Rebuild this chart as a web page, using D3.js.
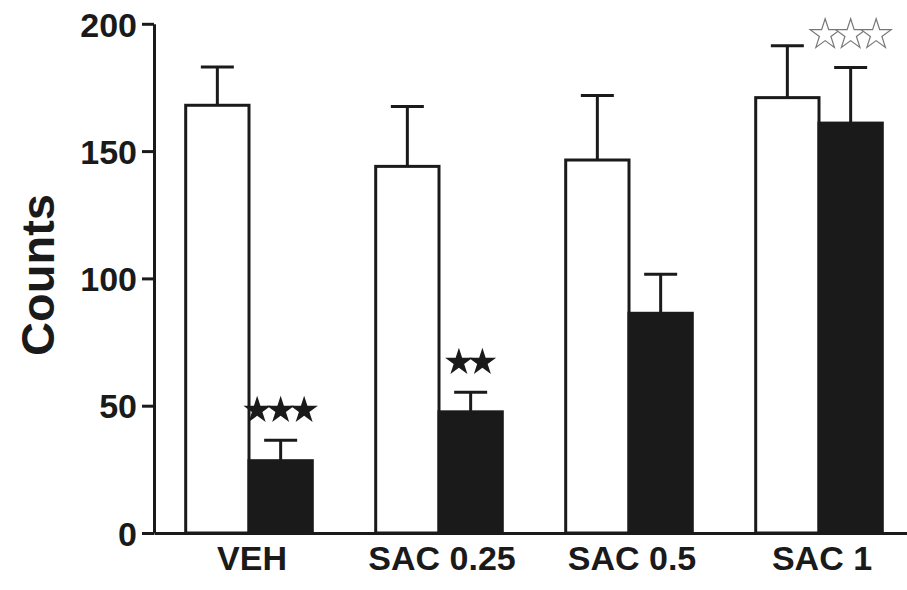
<!DOCTYPE html>
<html>
<head>
<meta charset="utf-8">
<script src="https://cdn.jsdelivr.net/npm/d3@7"></script>
<style>
  body { margin: 0; background: #fff; }
  svg { display: block; }
  text { font-family: "Liberation Sans", Arial, sans-serif; font-weight: bold; fill: #1a1a1a; }
</style>
</head>
<body>
<div id="chart"></div>
<script>
// values
const groups = ['VEH', 'SAC 0.25', 'SAC 0.5', 'SAC 1']
const whiteMean = [168, 144, 146.5, 171]
const whiteSem = [15, 23.5, 25.3, 20.4]
const blackMean = [28.4, 47.6, 86.3, 161]
const blackSem = [8, 7.7, 15.3, 21.8]
const filledStars = [3, 2, 0, 0]
const openStars = [0, 0, 0, 3]
const yTicks = [0, 50, 100, 150, 200]

const width = 907
const height = 590
const ink = '#1a1a1a'

const svg = d3.select('#chart').append('svg')
    .attr('width', width)
    .attr('height', height)

const x = d3.scaleBand().domain(groups).range([154, 914])
const y = d3.scaleLinear().domain([0, 200]).range([533, 23.8])

const barW = 63.3
const capW = 33

// y axis
const yAxis = d3.axisLeft(y)
    .tickValues(yTicks)
    .tickSize(12)
    .tickSizeOuter(0)
    .tickPadding(5)

const yG = svg.append('g')
    .attr('transform', 'translate(154,0)')
    .call(yAxis)
yG.select('.domain').attr('stroke', ink).attr('stroke-width', 3)
yG.selectAll('.tick line').attr('stroke', ink).attr('stroke-width', 3)
yG.selectAll('.tick text')
    .attr('font-size', 34)
    .attr('dy', '0.36em')
    .style('font-family', '"Liberation Sans", Arial, sans-serif')
    .style('font-weight', 'bold')
    .attr('fill', ink)

// x axis
const xAxis = d3.axisBottom(x).tickSize(0).tickPadding(13)
const xG = svg.append('g')
    .attr('transform', 'translate(0,533)')
    .call(xAxis)
xG.select('.domain').attr('stroke', ink).attr('stroke-width', 3)
xG.selectAll('.tick text')
    .attr('font-size', 34)
    .attr('dy', '0.71em')
    .attr('dx', 3)
    .style('font-family', '"Liberation Sans", Arial, sans-serif')
    .style('font-weight', 'bold')
    .attr('fill', ink)

// y label
svg.append('text')
    .attr('transform', 'translate(54,275) rotate(-90)')
    .attr('text-anchor', 'middle')
    .attr('font-size', 47)
    .text('Counts')

const cx = d => x(d) + x.bandwidth() / 2

const bars = [
  { mean: whiteMean, sem: whiteSem, fill: '#fff', off: -barW },
  { mean: blackMean, sem: blackSem, fill: ink, off: 0 },
]

bars.forEach(s => {
  const g = svg.append('g')
  groups.forEach((k, i) => {
    const left = cx(k) + s.off
    const mid = left + barW / 2
    // error bar (upper only)
    g.append('line')
        .attr('x1', mid).attr('x2', mid)
        .attr('y1', y(s.mean[i])).attr('y2', y(s.mean[i] + s.sem[i]))
        .attr('stroke', ink).attr('stroke-width', 3)
    g.append('line')
        .attr('x1', mid - capW / 2).attr('x2', mid + capW / 2)
        .attr('y1', y(s.mean[i] + s.sem[i])).attr('y2', y(s.mean[i] + s.sem[i]))
        .attr('stroke', ink).attr('stroke-width', 3)
    g.append('rect')
        .attr('x', left)
        .attr('y', y(s.mean[i]))
        .attr('width', barW)
        .attr('height', y(0) - y(s.mean[i]))
        .attr('fill', s.fill)
        .attr('stroke', ink)
        .attr('stroke-width', 3)
  })
})

// significance stars above the black bars
const star = d3.symbol(d3.symbolStar)
groups.forEach((k, i) => {
  const mid = cx(k) + barW / 2
  const top = y(blackMean[i] + blackSem[i])
  const nf = filledStars[i]
  for (let j = 0; j < nf; j++) {
    svg.append('path')
        .attr('d', star.size(235)())
        .attr('transform', `translate(${mid + (j - (nf - 1) / 2) * 23.5},${top - 30})`)
        .attr('fill', ink)
  }
  const no = openStars[i]
  for (let j = 0; j < no; j++) {
    svg.append('path')
        .attr('d', star.size(280)())
        .attr('transform', `translate(${mid + (j - (no - 1) / 2) * 25.5},${top - 33})`)
        .attr('fill', '#fff')
        .attr('stroke', '#777')
        .attr('stroke-width', 1.2)
  }
})
</script>
</body>
</html>
